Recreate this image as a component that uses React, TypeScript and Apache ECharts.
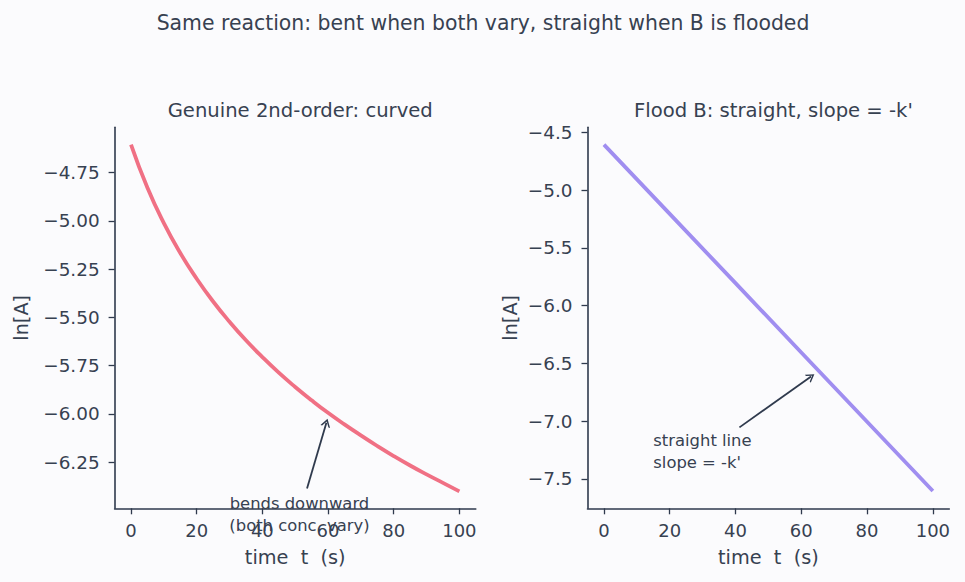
import React, { useEffect, useRef } from "react";
import * as echarts from "echarts";

// ---- data ----
const timeS = [0, 5, 10, 15, 20, 25, 30, 35, 40, 45, 50, 55, 60, 65, 70, 75, 80, 85, 90, 95, 100];
const lnA_bothVary = [
  -4.605, -4.829, -5.012, -5.167, -5.300, -5.418, -5.523, -5.619, -5.706, -5.787, -5.861,
  -5.930, -5.995, -6.055, -6.112, -6.167, -6.219, -6.268, -6.314, -6.358, -6.402,
];
const timeFlood = [0, 20, 40, 60, 80, 100];
const lnA_flooded = [-4.605, -5.205, -5.805, -6.405, -7.005, -7.605];

const xTicks = [0, 20, 40, 60, 80, 100];
const yTicksLeft = [-6.25, -6.0, -5.75, -5.5, -5.25, -5.0, -4.75];
const yTicksRight = [-7.5, -7.0, -6.5, -6.0, -5.5, -5.0, -4.5];

const leftArrow = { from: [53.6, -6.387], to: [59.5, -6.046] };
const leftNote = { at: [51.3, -6.522], text: "bends downward\n(both conc. vary)" };
const rightArrow = { from: [41.2, -7.054], to: [62.98, -6.613] };
const rightNote = { at: [15, -7.261], text: "straight line\nslope = -k'" };

const mainTitle = "Same reaction: bent when both vary, straight when B is flooded";
const leftTitle = "Genuine 2nd-order: curved";
const rightTitle = "Flood B: straight, slope = -k'";
const xName = "time  t  (s)";
const yName = "ln[A]";

const TEXT = "#374151";
const AXIS = "#2f3a4d";
const FONT = "DejaVu Sans";
const CHEVRON = "path://M0,10 L5,0 L10,10 L8.3,10 L5,3.4 L1.7,10 Z";

const fmtMinus = (v: number, d: number) => {
  const s = Math.abs(v).toFixed(d);
  return v < 0 ? "\u2212" + s : s;
};

function xAxisCfg(gridIndex: number) {
  return {
    type: "value",
    gridIndex,
    min: -5,
    max: 105,
    name: xName,
    nameLocation: "middle",
    nameGap: 40,
    nameTextStyle: { color: TEXT, fontSize: 19.3, fontFamily: FONT },
    splitLine: { show: false },
    axisLine: { show: true, onZero: false, lineStyle: { color: AXIS, width: 1.6 } },
    axisTick: { show: true, length: 6, lineStyle: { color: AXIS, width: 1.3 }, customValues: xTicks },
    axisLabel: {
      show: true,
      margin: 13,
      color: TEXT,
      fontSize: 18,
      fontFamily: FONT,
      customValues: xTicks,
      formatter: (v: number) => fmtMinus(v, 0),
    },
  };
}

function yAxisCfg(gridIndex: number, min: number, max: number, ticks: number[], dec: number, gap: number) {
  return {
    type: "value",
    gridIndex,
    min,
    max,
    name: yName,
    nameLocation: "middle",
    nameGap: gap,
    nameTextStyle: { color: TEXT, fontSize: 19.3, fontFamily: FONT },
    splitLine: { show: false },
    axisLine: { show: true, onZero: false, lineStyle: { color: AXIS, width: 1.6 } },
    axisTick: { show: true, length: 6, lineStyle: { color: AXIS, width: 1.3 }, customValues: ticks },
    axisLabel: {
      show: true,
      margin: 15,
      color: TEXT,
      fontSize: 18.4,
      fontFamily: FONT,
      customValues: ticks,
      formatter: (v: number) => fmtMinus(v, dec),
    },
  };
}

function arrowLine(a: { from: number[]; to: number[] }) {
  return {
    silent: true,
    symbol: ["none", CHEVRON],
    symbolSize: [10, 8],
    label: { show: false },
    lineStyle: { color: AXIS, width: 1.8, type: "solid", opacity: 1 },
    data: [[{ coord: a.from }, { coord: a.to }]],
  };
}

export default function App() {
  const ref = useRef<HTMLDivElement>(null);
  useEffect(() => {
    document.body.style.margin = "0";
    document.body.style.background = "#fbfbfd";
    const chart = echarts.init(ref.current!, null, { renderer: "svg" });
    chart.setOption({
      animation: false,
      backgroundColor: "#fbfbfd",
      textStyle: { fontFamily: FONT },
      title: [
        {
          text: mainTitle,
          left: 478,
          top: 8,
          textAlign: "center",
          textStyle: { color: TEXT, fontSize: 20.4, fontWeight: "normal", fontFamily: FONT },
        },
        {
          text: leftTitle,
          left: 295.2,
          top: 95,
          textAlign: "center",
          textStyle: { color: TEXT, fontSize: 19.6, fontWeight: "normal", fontFamily: FONT },
        },
        {
          text: rightTitle,
          left: 768.4,
          top: 95,
          textAlign: "center",
          textStyle: { color: TEXT, fontSize: 19.6, fontWeight: "normal", fontFamily: FONT },
        },
      ],
      grid: [
        { left: 114.6, top: 127.3, width: 361.2, height: 381 },
        { left: 587.5, top: 127.3, width: 361.8, height: 381 },
      ],
      xAxis: [xAxisCfg(0), xAxisCfg(1)],
      yAxis: [
        yAxisCfg(0, -6.4898, -4.5152, yTicksLeft, 2, 84),
        yAxisCfg(1, -7.755, -4.455, yTicksRight, 1, 68),
      ],
      series: [
        {
          type: "line",
          xAxisIndex: 0,
          yAxisIndex: 0,
          data: timeS.map((t, i) => [t, lnA_bothVary[i]]),
          showSymbol: false,
          smooth: true,
          lineStyle: { color: "#f07084", width: 3.8 },
          markLine: arrowLine(leftArrow),
        },
        {
          type: "line",
          xAxisIndex: 1,
          yAxisIndex: 1,
          data: timeFlood.map((t, i) => [t, lnA_flooded[i]]),
          showSymbol: false,
          lineStyle: { color: "#a08ef0", width: 3.8 },
          markLine: arrowLine(rightArrow),
        },
      ],
    });

    const lp = chart.convertToPixel({ gridIndex: 0 }, leftNote.at) as number[];
    const rp = chart.convertToPixel({ gridIndex: 1 }, rightNote.at) as number[];
    const noteStyle = {
      fill: TEXT,
      fontSize: 16.4,
      fontFamily: FONT,
      lineHeight: 21.5,
      verticalAlign: "middle",
    };
    chart.setOption({
      graphic: [
        {
          type: "text",
          x: lp[0],
          y: lp[1],
          z: 100,
          silent: true,
          style: { ...noteStyle, text: leftNote.text, align: "center" },
        },
        {
          type: "text",
          x: rp[0],
          y: rp[1],
          z: 100,
          silent: true,
          style: { ...noteStyle, text: rightNote.text, align: "left" },
        },
      ],
    });
    return () => chart.dispose();
  }, []);
  return <div ref={ref} style={{ width: 965, height: 582, background: "#fbfbfd" }} />;
}
